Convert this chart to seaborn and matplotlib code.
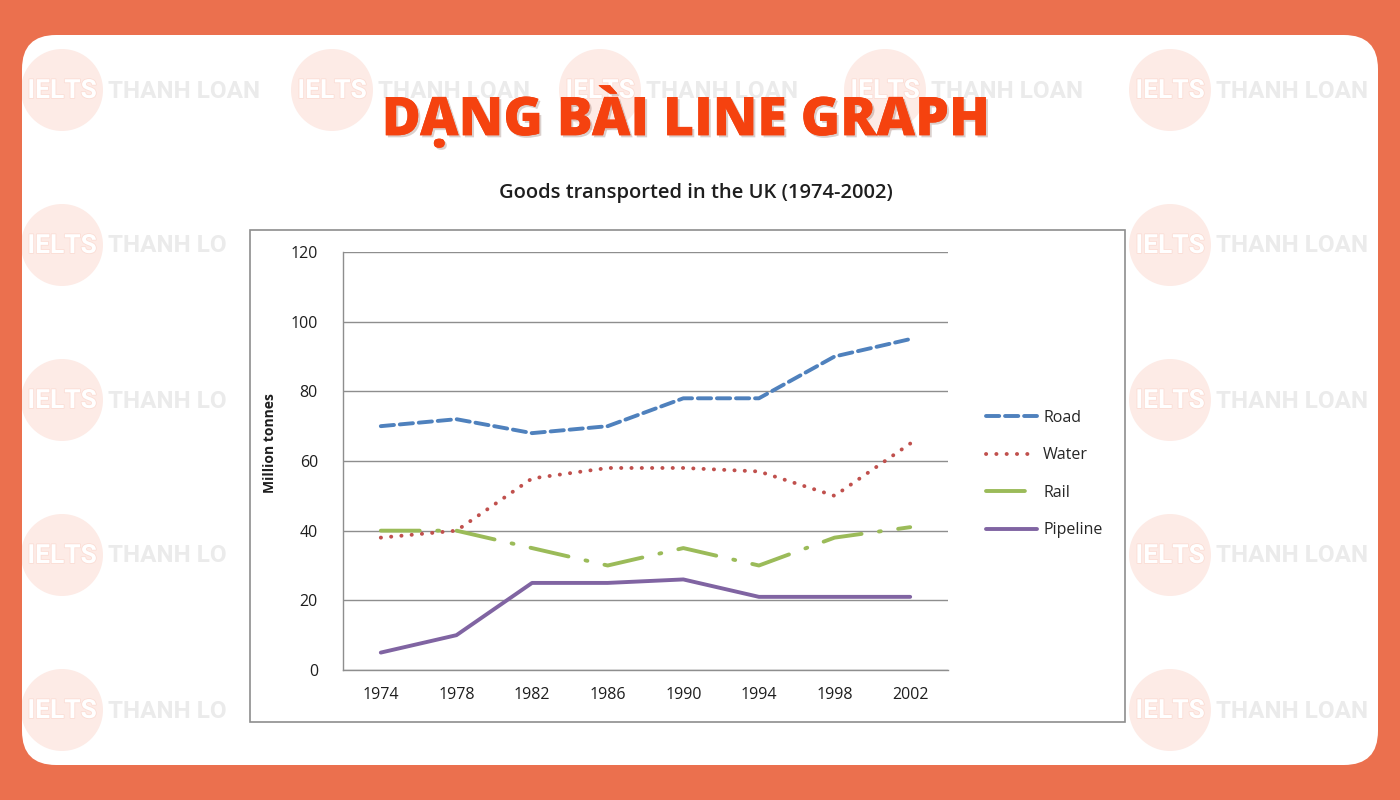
import matplotlib
matplotlib.use("Agg")
import matplotlib.pyplot as plt
import matplotlib.patheffects as pe
from matplotlib.patches import FancyBboxPatch, Rectangle, Circle
from matplotlib.lines import Line2D
import pandas as pd
import seaborn as sns

# data (million tonnes)
years = ["1974", "1978", "1982", "1986", "1990", "1994", "1998", "2002"]
road = [70, 72, 68, 70, 78, 78, 90, 95]
water = [38, 40, 55, 58, 58, 57, 50, 65]
rail = [40, 40, 35, 30, 35, 30, 38, 41]
pipeline = [5, 10, 25, 25, 26, 21, 21, 21]
modes = ["Road", "Water", "Rail", "Pipeline"]
y_ticks = [0, 20, 40, 60, 80, 100, 120]

df = pd.DataFrame({
    "year": years * 4,
    "mode": [m for m in modes for _ in years],
    "value": road + water + rail + pipeline,
})

colors = {"Road": "#4F81BD", "Water": "#C0504D", "Rail": "#9BBB59", "Pipeline": "#8064A2"}
dashes = {"Road": (3.4, 1.5), "Water": (0.05, 2.6), "Rail": (10, 4.5, 0.5, 4.5), "Pipeline": ""}

sns.set_theme(style="white")
plt.rcParams['font.family'] = ['Open Sans', 'DejaVu Sans']

fig = plt.figure(figsize=(14, 8), dpi=100)
fig.patch.set_facecolor("#EB704E")

# background layer in pixel units
bg = fig.add_axes([0, 0, 1, 1])
bg.set_xlim(0, 1400)
bg.set_ylim(800, 0)
bg.axis("off")
r = 34
card = FancyBboxPatch((22 + r, 35 + r), 1356 - 2 * r, 730 - 2 * r,
                      boxstyle=f"round,pad={r}", fc="white", ec="none", zorder=1)
bg.add_patch(card)

# faint watermarks (middle ones sit under the chart frame)
wm_x = [62, 332, 600, 885, 1170]
wm_y = [90, 245, 400, 555, 710]
for i, cy in enumerate(wm_y):
    for j, cx in enumerate(wm_x):
        if i > 0 and 0 < j < 4:
            continue
        label = "THANH LO" if (i > 0 and j == 0) else "THANH LOAN"
        c = Circle((cx, cy), 41, fc="#FDEBE6", ec="none", zorder=2)
        bg.add_patch(c)
        c.set_clip_path(card)
        bg.text(cx, cy + 1, "IELTS", ha="center", va="center", fontsize=19, fontweight="bold",
                family="Roboto", color="white", zorder=3,
                path_effects=[pe.withStroke(linewidth=1.2, foreground="#FBDDD5")])
        bg.text(cx + 46, cy + 1, label, ha="left", va="center", fontsize=17.5,
                fontweight="bold", family="Roboto", color="#EBEBEB", zorder=3)

# chart frame
bg.add_patch(Rectangle((250, 230), 875, 492, fc="white", ec="#8E8E8E", lw=1.2, zorder=4))

bg.text(686, 117, "DẠNG BÀI LINE GRAPH", ha="center", va="center", fontsize=38.5,
        fontweight="heavy", color="#F5420F", zorder=5,
        path_effects=[pe.withSimplePatchShadow(offset=(1.5, -1.5), alpha=0.2), pe.Normal()])
bg.text(696, 193, "Goods transported in the UK (1974-2002)", ha="center", va="center",
        fontsize=14.5, fontweight="semibold", color="#1E1E1E", zorder=5)

ax = fig.add_axes([343 / 1400, 1 - 670 / 800, 605 / 1400, 418 / 800])
ax.set_facecolor("none")
sns.lineplot(data=df, x="year", y="value", hue="mode", style="mode", palette=colors,
             dashes=dashes, linewidth=2.8, sort=False, legend=False, ax=ax)
for ln in ax.lines:
    ln.set_dash_capstyle("round")

ax.set_xlim(-0.5, 7.5)
ax.set_ylim(0, 120)
ax.set_xticks(range(len(years)), labels=years)
ax.set_xticks([i - 0.5 for i in range(len(years) + 1)], minor=True)
ax.set_yticks(y_ticks)
ax.tick_params(axis="x", which="major", length=0, pad=12, labelsize=11.5, labelcolor="#1E1E1E")
ax.tick_params(axis="x", which="minor", length=6, width=1, color="#8E8E8E", direction="out")
ax.tick_params(axis="y", length=6, width=1, color="#8E8E8E", direction="out", pad=12,
               labelsize=11.5, labelcolor="#1E1E1E")
ax.grid(axis="y", color="#8E8E8E", lw=1)
ax.set_axisbelow(True)
for s in ["top", "right"]:
    ax.spines[s].set_visible(False)
for s in ["left", "bottom"]:
    ax.spines[s].set_color("#8E8E8E")
    ax.spines[s].set_linewidth(1)
ax.set_xlabel("")
ax.set_ylabel("")

fig.text(270 / 1400, 1 - 443 / 800, "Million tonnes", rotation=90, ha="center", va="center",
         fontsize=10, fontweight="bold", color="#1E1E1E")

handles = [Line2D([0], [0], color=colors[m], lw=2.8, dashes=dashes[m], dash_capstyle="round")
           for m in modes[:3]]
handles.append(Line2D([0], [0], color=colors["Pipeline"], lw=2.8))
fig.legend(handles, modes, loc="center left", bbox_to_anchor=(972 / 1400, 1 - 474 / 800),
           frameon=False, fontsize=11.5, handlelength=3.2, labelspacing=1.35, handletextpad=0.35)

fig.savefig("out.png", dpi=100, facecolor=fig.get_facecolor())
